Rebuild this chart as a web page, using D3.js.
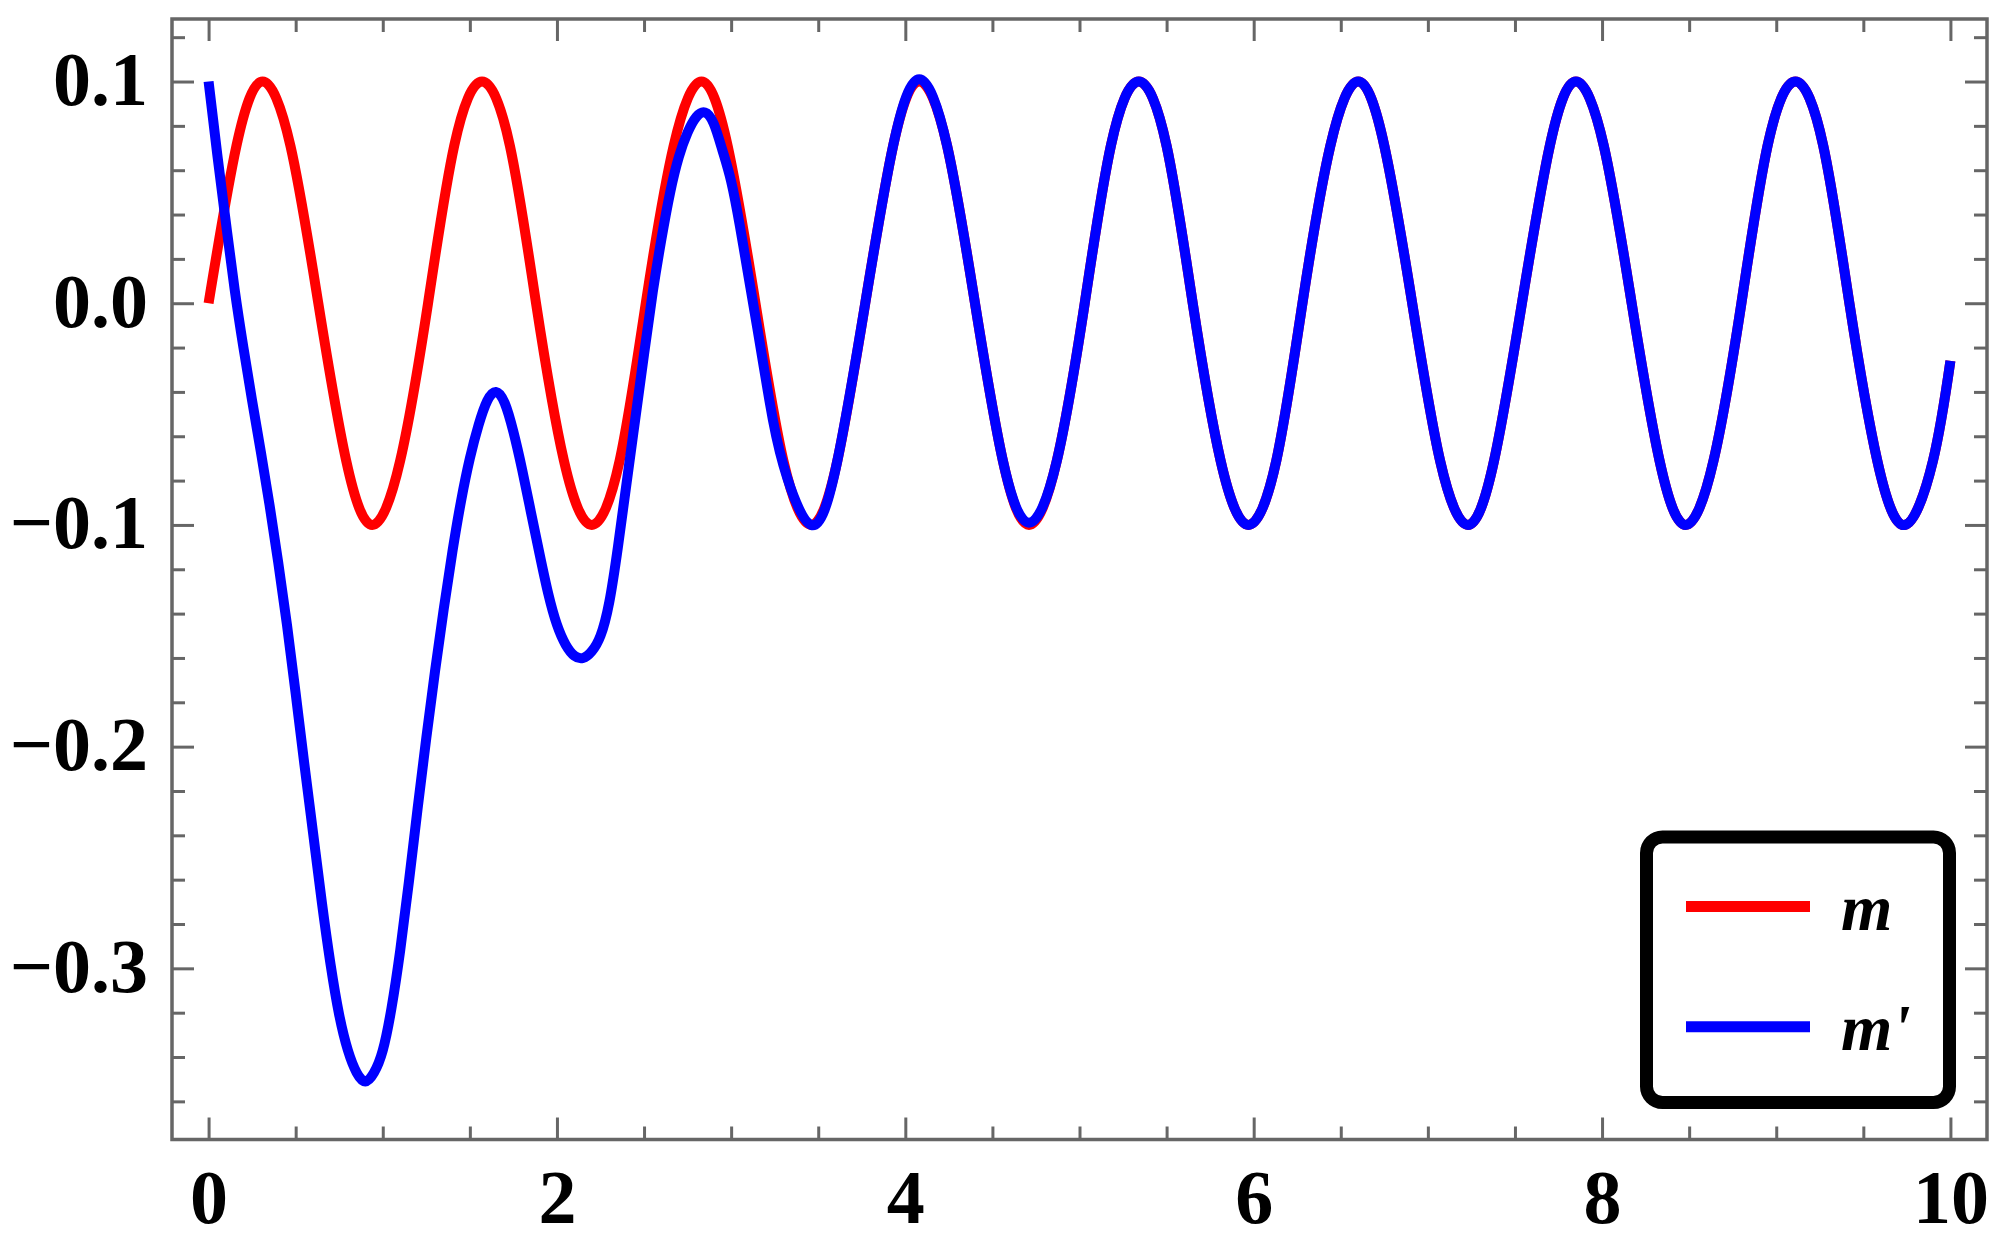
<!DOCTYPE html>
<html>
<head>
<meta charset="utf-8">
<script src="https://cdn.jsdelivr.net/npm/d3@7"></script>
<style>
  body { margin: 0; background: #fff; }
  svg { display: block; }
  .tick text { font-family: "Liberation Serif", "Times New Roman", serif; font-weight: bold; fill: #000; }
</style>
</head>
<body>
<svg width="1998" height="1237"></svg>
<script>

// m (red)
var tM = [0, 0.16, 0.31, 0.47, 0.63, 0.79, 0.94, 1.10, 1.26, 1.41, 1.57, 1.73, 1.88, 2.04, 2.20, 2.36,
          2.51, 2.67, 2.83, 2.98, 3.14, 3.30, 3.46, 3.61, 3.77, 3.93, 4.08, 4.24, 4.40, 4.56, 4.71, 4.87,
          5.03, 5.18, 5.34, 5.50, 5.65, 5.81, 5.97, 6.13, 6.28, 6.44, 6.60, 6.75, 6.91, 7.07, 7.23, 7.38,
          7.54, 7.70, 7.85, 8.01, 8.17, 8.33, 8.48, 8.64, 8.80, 8.95, 9.11, 9.27, 9.42, 9.58, 9.74, 9.90, 10.0];
var mVal = [0, 0.071, 0.1, 0.071, 0, -0.071, -0.1, -0.071,
            0, 0.071, 0.1, 0.071, 0, -0.071, -0.1, -0.071,
            0, 0.071, 0.1, 0.071, 0, -0.071, -0.1, -0.071,
            0, 0.071, 0.1, 0.071, 0, -0.071, -0.1, -0.071,
            0, 0.071, 0.1, 0.071, 0, -0.071, -0.1, -0.071,
            0, 0.071, 0.1, 0.071, 0, -0.071, -0.1, -0.071,
            0, 0.071, 0.1, 0.071, 0, -0.071, -0.1, -0.071,
            0, 0.071, 0.1, 0.071, 0, -0.071, -0.1, -0.071, -0.026];

// m' (blue)
var tMp = [0, 0.05, 0.10, 0.15, 0.20, 0.25, 0.30, 0.35, 0.40, 0.45, 0.50, 0.55, 0.60, 0.65, 0.70, 0.75,
           0.80, 0.85, 0.90, 0.95, 1.00, 1.05, 1.10, 1.15, 1.20, 1.25, 1.30, 1.35, 1.40, 1.45, 1.50, 1.55,
           1.60, 1.65, 1.70, 1.75, 1.80, 1.85, 1.90, 1.95, 2.00, 2.05, 2.10, 2.15, 2.20, 2.25, 2.30, 2.35,
           2.40, 2.45, 2.50, 2.55, 2.60, 2.65, 2.70, 2.75, 2.80, 2.85, 2.90, 2.95, 3.00, 3.05, 3.10, 3.15,
           3.22, 3.30, 3.46,
           3.61, 3.77, 3.93, 4.08, 4.24, 4.40, 4.56, 4.71, 4.87,
           5.03, 5.18, 5.34, 5.50, 5.65, 5.81, 5.97, 6.13, 6.28, 6.44, 6.60, 6.75, 6.91, 7.07, 7.23, 7.38,
           7.54, 7.70, 7.85, 8.01, 8.17, 8.33, 8.48, 8.64, 8.80, 8.95, 9.11, 9.27, 9.42, 9.58, 9.74, 9.90, 10.0];
var mpVal = [0.100, 0.067, 0.036, 0.006, -0.020, -0.044, -0.067, -0.091, -0.117, -0.145, -0.176, -0.208,
             -0.239, -0.270, -0.298, -0.321, -0.337, -0.347, -0.351, -0.347, -0.337, -0.318, -0.292, -0.261,
             -0.228, -0.196, -0.166, -0.138, -0.112, -0.089, -0.070, -0.055, -0.044, -0.040, -0.045, -0.058,
             -0.075, -0.094, -0.113, -0.131, -0.145, -0.154, -0.159, -0.160, -0.157, -0.150, -0.135, -0.110,
             -0.081, -0.052, -0.023, 0.005, 0.029, 0.050, 0.066, 0.077, 0.084, 0.086, 0.081, 0.069,
             0.055, 0.035, 0.012, -0.011,
             -0.044, -0.073, -0.100,
             -0.071, 0, 0.071, 0.101, 0.071, 0, -0.071, -0.099, -0.071,
             0, 0.071, 0.1, 0.071, 0, -0.071, -0.1, -0.071,
             0, 0.071, 0.1, 0.071, 0, -0.071, -0.1, -0.071,
             0, 0.071, 0.1, 0.071, 0, -0.071, -0.1, -0.071,
             0, 0.071, 0.1, 0.071, 0, -0.071, -0.1, -0.071, -0.026];

var xTicks = [0, 2, 4, 6, 8, 10];
var yTicks = [0.1, 0, -0.1, -0.2, -0.3];
var seriesNames = ["m", "m'"];
var seriesColors = ["#ff0000", "#0000ff"];

var svg = d3.select("svg");

// plot frame (window.top is read-only, so no bare "top")
var frameL = 172, frameR = 1987, frameT = 19, frameB = 1139.5;

var x = d3.scaleLinear().domain([-0.21, 10.21]).range([frameL, frameR]);
var y = d3.scaleLinear().domain([-0.3772, 0.1282]).range([frameB, frameT]);

var xMinor = d3.range(0, 10.01, 0.5).filter(function(d) { return d % 2 !== 0; });
var yMinor = d3.range(-36, 13, 2).map(function(d) { return d / 100; })
  .filter(function(d) { return Math.abs(Math.round(d * 100)) % 10 !== 0; });

var tickColor = "#666";

function styleAxis(g) {
  g.select(".domain").remove();
  g.selectAll(".tick line").attr("stroke", tickColor).attr("stroke-width", 3);
}

// major ticks, inside the frame
svg.append("g").attr("transform", "translate(0," + frameB + ")")
  .call(d3.axisBottom(x).tickValues(xTicks).tickSize(-22).tickPadding(30).tickFormat(d3.format("d")))
  .call(styleAxis)
  .selectAll("text").style("font-size", "76px");
svg.append("g").attr("transform", "translate(0," + frameT + ")")
  .call(d3.axisTop(x).tickValues(xTicks).tickSize(-22).tickFormat(""))
  .call(styleAxis);
svg.append("g").attr("transform", "translate(" + frameL + ",0)")
  .call(d3.axisLeft(y).tickValues(yTicks).tickSize(-22).tickPadding(24).tickFormat(d3.format(".1f")))
  .call(styleAxis)
  .selectAll("text").style("font-size", "76px").attr("dy", "0.30em");
svg.append("g").attr("transform", "translate(" + frameR + ",0)")
  .call(d3.axisRight(y).tickValues(yTicks).tickSize(-22).tickFormat(""))
  .call(styleAxis);

// minor ticks
svg.append("g").attr("transform", "translate(0," + frameB + ")")
  .call(d3.axisBottom(x).tickValues(xMinor).tickSize(-13).tickFormat(""))
  .call(styleAxis);
svg.append("g").attr("transform", "translate(0," + frameT + ")")
  .call(d3.axisTop(x).tickValues(xMinor).tickSize(-13).tickFormat(""))
  .call(styleAxis);
svg.append("g").attr("transform", "translate(" + frameL + ",0)")
  .call(d3.axisLeft(y).tickValues(yMinor).tickSize(-13).tickFormat(""))
  .call(styleAxis);
svg.append("g").attr("transform", "translate(" + frameR + ",0)")
  .call(d3.axisRight(y).tickValues(yMinor).tickSize(-13).tickFormat(""))
  .call(styleAxis);

// frame
svg.append("rect")
  .attr("x", frameL).attr("y", frameT)
  .attr("width", frameR - frameL).attr("height", frameB - frameT)
  .attr("fill", "none").attr("stroke", tickColor).attr("stroke-width", 3.5);

var line = d3.line()
  .x(function(d) { return x(d[0]); })
  .y(function(d) { return y(d[1]); })
  .curve(d3.curveNatural);

var series = [d3.zip(tM, mVal), d3.zip(tMp, mpVal)];

svg.append("g").selectAll("path")
  .data(series)
  .enter().append("path")
    .attr("d", line)
    .attr("fill", "none")
    .attr("stroke", function(d, i) { return seriesColors[i]; })
    .attr("stroke-width", 10)
    .attr("stroke-linejoin", "round");

// legend
var legend = svg.append("g");
legend.append("rect")
  .attr("x", 1646.5).attr("y", 837)
  .attr("width", 303).attr("height", 265.5)
  .attr("rx", 16).attr("ry", 16)
  .attr("fill", "#fff").attr("stroke", "#000").attr("stroke-width", 13);

var item = legend.selectAll(".item")
  .data(seriesNames)
  .enter().append("g")
    .attr("class", "item")
    .attr("transform", function(d, i) { return "translate(0," + (906.6 + i * 120.2) + ")"; });
item.append("line")
  .attr("x1", 1686).attr("x2", 1810)
  .attr("stroke", function(d, i) { return seriesColors[i]; })
  .attr("stroke-width", 11);
item.append("text")
  .attr("x", 1841).attr("y", 23)
  .style("font-family", "'Liberation Serif', 'Times New Roman', serif")
  .style("font-weight", "bold").style("font-style", "italic")
  .style("font-size", "66px")
  .text(function(d) { return d; });

</script>
</body>
</html>
